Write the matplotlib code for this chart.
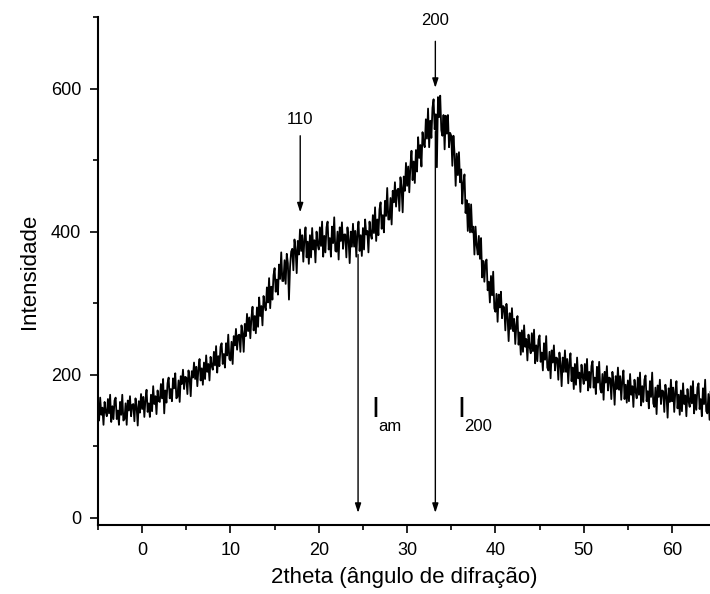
import numpy as np
import matplotlib
matplotlib.use("Agg")
import matplotlib.pyplot as plt
from matplotlib.ticker import MultipleLocator

plt.rcParams['font.family'] = ['Liberation Sans', 'DejaVu Sans']

# 2theta grid, 0.125 deg step
theta_start = -5.0
theta_step = 0.125

# intensity, 8 points per degree (one row = one degree)
intensity = [
    160, 136, 168, 144, 154, 130, 162, 148,   # -5
    142, 166, 146, 172, 134, 156, 138, 164,   # -4
    168, 138, 150, 130, 162, 144, 172, 136,   # -3
    138, 160, 130, 164, 150, 170, 142, 158,   # -2
    159, 135, 167, 155, 129, 163, 147, 173,   # -1
    152, 169, 141, 166, 179, 148, 160, 141,   # 0
    172, 149, 184, 159, 170, 145, 178, 163,   # 1
    162, 187, 167, 194, 146, 178, 161, 188,   # 2
    196, 167, 180, 163, 195, 181, 202, 167,   # 3
    169, 192, 162, 198, 187, 207, 180, 197,   # 4
    196, 173, 206, 195, 170, 205, 196, 217,   # 5
    194, 211, 184, 209, 222, 192, 209, 186,   # 6
    217, 194, 227, 204, 215, 192, 225, 212,   # 7
    207, 232, 213, 240, 203, 226, 212, 239,   # 8
    244, 215, 229, 210, 244, 227, 256, 222,   # 9
    220, 246, 215, 254, 241, 264, 235, 255,   # 10
    256, 232, 269, 258, 232, 271, 254, 285,   # 11
    261, 280, 251, 280, 295, 262, 282, 258,   # 12
    294, 267, 308, 282, 296, 269, 310, 296,   # 13
    290, 322, 301, 335, 293, 323, 305, 339,   # 14
    349, 316, 333, 312, 354, 334, 371, 331,   # 15
    331, 360, 327, 369, 356, 305, 351, 372,   # 16
    376, 346, 389, 375, 342, 387, 368, 403,   # 17
    373, 395, 358, 390, 406, 364, 386, 355,   # 18
    395, 364, 405, 375, 388, 357, 400, 382,   # 19
    375, 406, 380, 414, 365, 394, 371, 406,   # 20
    414, 375, 391, 365, 407, 384, 420, 373,   # 21
    372, 400, 361, 406, 387, 413, 376, 396,   # 22
    396, 364, 406, 389, 356, 400, 379, 411,   # 23
    379, 401, 365, 398, 414, 373, 395, 366,   # 24
    405, 375, 417, 396, 401, 371, 414, 396,   # 25
    390, 423, 398, 434, 387, 417, 395, 431,   # 26
    441, 404, 423, 399, 443, 422, 461, 417,   # 27
    417, 447, 410, 457, 441, 469, 435, 458,   # 28
    460, 429, 476, 462, 427, 477, 457, 496,   # 29
    464, 491, 455, 492, 513, 472, 498, 468,   # 30
    514, 484, 532, 503, 521, 491, 539, 523,   # 31
    518, 557, 530, 572, 518, 555, 531, 573,   # 32
    585, 543, 564, 490, 588, 560, 590, 542,   # 33
    534, 563, 515, 562, 537, 563, 518, 538,   # 34
    534, 492, 534, 509, 464, 509, 479, 511,   # 35
    469, 487, 439, 468, 480, 426, 444, 401,   # 36
    439, 399, 438, 399, 407, 368, 407, 381,   # 37
    368, 394, 362, 391, 336, 359, 330, 358,   # 38
    361, 318, 330, 301, 338, 311, 344, 293,   # 39
    288, 313, 274, 312, 294, 316, 279, 296,   # 40
    294, 262, 299, 281, 247, 286, 264, 293,   # 41
    261, 278, 243, 270, 282, 242, 259, 228,   # 42
    262, 232, 269, 239, 250, 220, 256, 239,   # 43
    230, 258, 233, 263, 216, 241, 219, 249,   # 44
    255, 218, 231, 206, 244, 221, 254, 210,   # 45
    206, 232, 195, 234, 217, 241, 206, 224,   # 46
    223, 193, 231, 215, 184, 224, 204, 234,   # 47
    204, 222, 188, 217, 230, 191, 210, 180,   # 48
    215, 186, 224, 195, 203, 176, 214, 198,   # 49
    187, 215, 192, 222, 178, 204, 182, 212,   # 50
    219, 182, 196, 173, 211, 189, 218, 180,   # 51
    175, 201, 165, 204, 189, 212, 178, 196,   # 52
    195, 166, 204, 189, 158, 198, 180, 210,   # 53
    179, 198, 165, 193, 206, 166, 186, 161,   # 54
    192, 163, 201, 172, 184, 155, 193, 177,   # 55
    167, 196, 172, 203, 157, 184, 162, 193,   # 56
    199, 163, 177, 153, 191, 169, 203, 160,   # 57
    155, 182, 145, 185, 169, 193, 159, 178,   # 58
    177, 148, 186, 171, 140, 181, 162, 193,   # 59
    163, 182, 148, 177, 191, 153, 172, 144,   # 60
    178, 149, 188, 159, 171, 142, 180, 163,   # 61
    155, 184, 160, 191, 146, 172, 151, 182,   # 62
    188, 152, 166, 142, 181, 159, 193, 149,   # 63
    146, 173, 137, 177, 161,                  # 64
]
two_theta = theta_start + theta_step * np.arange(len(intensity))

# peak marker arrows
peak_x = [17.9, 33.2]
peak_y_top = [534, 666]
peak_y_tip = [427, 601]
peak_labels = ['110', '200']
peak_label_y = [557, 695]

# long intensity arrows
int_x = [24.45, 33.2]
int_y_top = [368, 540]
int_y_tip = [7, 7]

fig = plt.figure(figsize=(7.1, 5.94), dpi=100)
ax = fig.add_axes([0.138, 0.1162, 0.862, 0.8552])

ax.plot(two_theta, intensity, color='black', lw=1.3)

head = dict(arrowstyle='-|>,head_length=0.55,head_width=0.18', color='black', lw=1.0,
            shrinkA=0, shrinkB=0)
for x, y0, y1, lab, ly in zip(peak_x, peak_y_top, peak_y_tip, peak_labels, peak_label_y):
    ax.annotate('', xy=(x, y1), xytext=(x, y0), arrowprops=head, annotation_clip=False)
    ax.text(x, ly, lab, ha='center', va='center', fontsize=12, clip_on=False)
for x, y0, y1 in zip(int_x, int_y_top, int_y_tip):
    ax.annotate('', xy=(x, y1), xytext=(x, y0), arrowprops=head)

ax.text(26.0, 141, 'I', fontsize=21, va='baseline', ha='left')
ax.text(26.7, 121, 'am', fontsize=12, va='baseline', ha='left')
ax.text(35.7, 141, 'I', fontsize=21, va='baseline', ha='left')
ax.text(36.5, 121, '200', fontsize=12, va='baseline', ha='left')

ax.set_xlim(-5, 64.3)
ax.set_ylim(-10, 700)
ax.spines['top'].set_visible(False)
ax.spines['right'].set_visible(False)
for s in ['left', 'bottom']:
    ax.spines[s].set_linewidth(1.5)

ax.xaxis.set_major_locator(MultipleLocator(10))
ax.xaxis.set_minor_locator(MultipleLocator(5))
ax.yaxis.set_major_locator(MultipleLocator(200))
ax.yaxis.set_minor_locator(MultipleLocator(100))
ax.tick_params(which='major', direction='out', length=6, width=1.2, labelsize=13, pad=6)
ax.tick_params(which='minor', direction='out', length=3.5, width=1.2)

ax.set_xlabel('2theta (ângulo de difração)', fontsize=16, labelpad=6)
ax.set_ylabel('Intensidade', fontsize=16, labelpad=8)

fig.savefig('out.png', dpi=100)
